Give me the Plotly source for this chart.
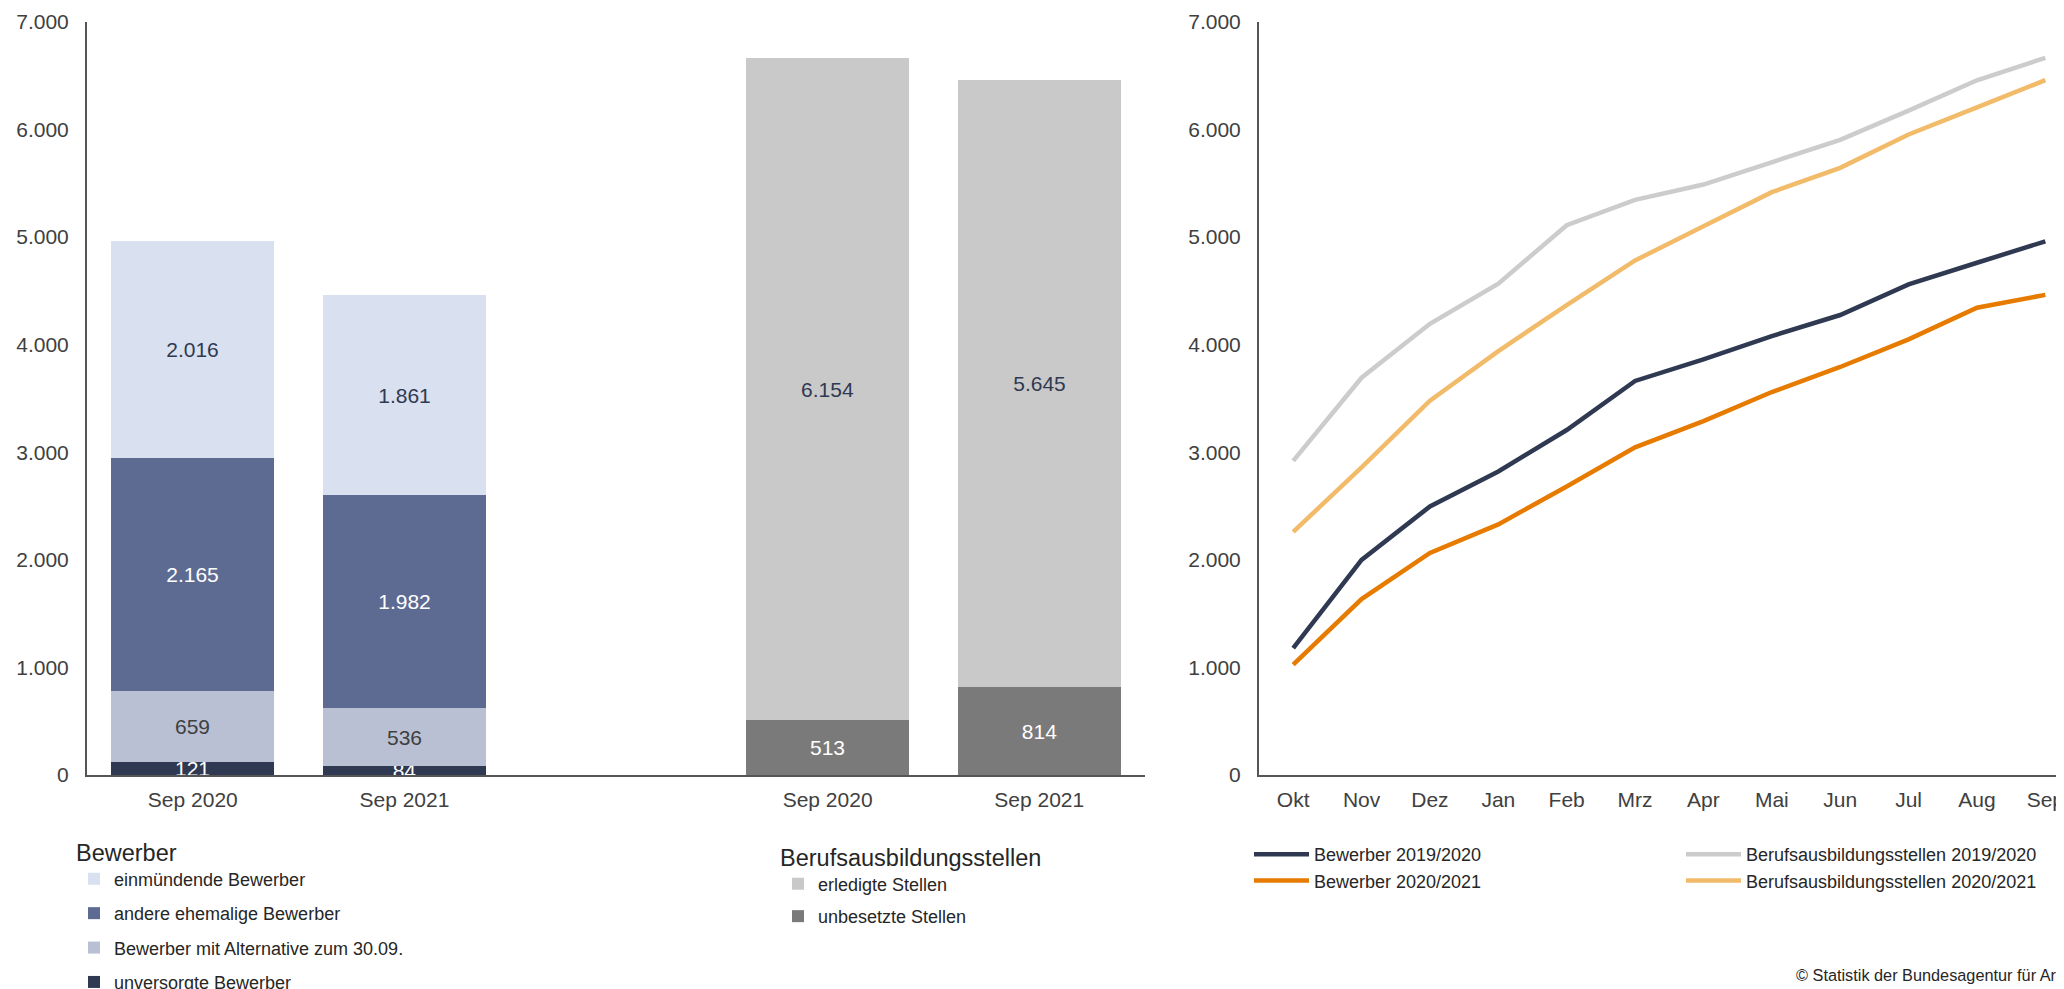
import plotly.graph_objects as go

# Bestand Ende September (linke Grafik)
stichtage = ["Sep 2020", "Sep 2021"]
bewerber_unversorgt = [121, 84]
bewerber_alternative = [659, 536]
bewerber_andere = [2165, 1982]
bewerber_einmuendend = [2016, 1861]
stellen_unbesetzt = [513, 814]
stellen_erledigt = [6154, 5645]

# kumulierte Entwicklung im Berichtsjahr (rechte Grafik)
monate = ["Okt", "Nov", "Dez", "Jan", "Feb", "Mrz", "Apr", "Mai", "Jun", "Jul", "Aug", "Sep"]
bewerber_1920 = [1180, 2000, 2497, 2821, 3207, 3663, 3864, 4080, 4276, 4560, 4762, 4961]
bewerber_2021 = [1025, 1636, 2065, 2330, 2682, 3046, 3290, 3560, 3793, 4050, 4344, 4463]
stellen_1920 = [2920, 3693, 4195, 4567, 5111, 5347, 5489, 5693, 5904, 6176, 6458, 6667]
stellen_2021 = [2260, 2860, 3480, 3941, 4368, 4783, 5102, 5418, 5644, 5954, 6207, 6459]

FONT = "Liberation Sans, Arial, sans-serif"
NAVY = "#2f3a52"
TICK = "#404040"

# slots on the bar axis: two Bewerber bars, one empty slot, two Stellen bars
pos_bewerber = [0, 1]
pos_stellen = [3, 4]

fig = go.Figure()


def add_bar(x, y, name, color, textcolor, legend, rank):
    fig.add_trace(go.Bar(
        x=x, y=y, name=name, marker_color=color, marker_line_width=0,
        width=0.77, texttemplate="%{y:,d}", textposition="inside",
        textangle=0, constraintext="none", insidetextanchor="middle",
        textfont=dict(family=FONT, size=21, color=textcolor),
        legend=legend, legendgroup=name, legendrank=rank, cliponaxis=True,
        xaxis="x", yaxis="y",
    ))


add_bar(pos_bewerber, bewerber_unversorgt, "unversorgte Bewerber", NAVY, "#ffffff", "legend", 4)
add_bar(pos_bewerber, bewerber_alternative, "Bewerber mit Alternative zum 30.09.", "#b9c0d4", "#404040", "legend", 3)
add_bar(pos_bewerber, bewerber_andere, "andere ehemalige Bewerber", "#5d6b93", "#ffffff", "legend", 2)
add_bar(pos_bewerber, bewerber_einmuendend, "einmündende Bewerber", "#d9e0ef", NAVY, "legend", 1)
add_bar(pos_stellen, stellen_unbesetzt, "unbesetzte Stellen", "#7a7a7a", "#ffffff", "legend2", 2)
add_bar(pos_stellen, stellen_erledigt, "erledigte Stellen", "#c9c9c9", NAVY, "legend2", 1)


def add_line(y, name, color, legend):
    fig.add_trace(go.Scatter(
        x=monate, y=y, name=name, mode="lines",
        line=dict(color=color, width=4.5), legend=legend,
        xaxis="x2", yaxis="y2",
    ))


add_line(stellen_1920, "Berufsausbildungsstellen 2019/2020", "#cccccc", "legend4")
add_line(stellen_2021, "Berufsausbildungsstellen 2020/2021", "#f2bb6a", "legend4")
add_line(bewerber_1920, "Bewerber 2019/2020", NAVY, "legend3")
add_line(bewerber_2021, "Bewerber 2020/2021", "#e67b00", "legend3")

W, H = 2064, 989
OFF = 8  # page body margin
top, bottom = 22 - OFF, 775 - OFF


# helpers take positions as seen on the page
def px_x(sx):
    return (sx - OFF) / W


def px_y(sy):
    return (bottom - (sy - OFF)) / (bottom - top)


def cy(sy):
    return 1 - (sy - OFF) / H


axis_common = dict(
    showline=True, linecolor="#555555", linewidth=2, showgrid=False,
    zeroline=False, ticks="", automargin=False,
    tickfont=dict(family=FONT, size=21, color=TICK),
)

legend_common = dict(
    bgcolor="rgba(0,0,0,0)", borderwidth=0, xanchor="left", yanchor="top",
    xref="container", yref="container",
    font=dict(family=FONT, size=18, color="#262626"),
    title_font=dict(family=FONT, size=23.5, color="#262626"),
)

fig.update_layout(
    width=W, height=H,
    margin=dict(l=0, r=0, t=top, b=H - bottom, autoexpand=False),
    paper_bgcolor="white", plot_bgcolor="white",
    separators=",.",
    barmode="stack", bargap=0,
    showlegend=True,
    xaxis=dict(axis_common, domain=[px_x(87), px_x(1145)], range=[-0.5, 4.5],
               tickmode="array", tickvals=pos_bewerber + pos_stellen,
               ticktext=stichtage + stichtage, ticklabelstandoff=5),
    yaxis=dict(axis_common, range=[0, 7000], tickformat=",d", dtick=1000,
               ticklabelstandoff=12),
    xaxis2=dict(axis_common, domain=[px_x(1259), 1], type="category",
                range=[-0.5, 11.39], anchor="y2", ticklabelstandoff=5),
    yaxis2=dict(axis_common, range=[0, 7000], tickformat=",d", dtick=1000,
                anchor="x2", ticklabelstandoff=12),
    legend=dict(legend_common, x=px_x(74), y=cy(830), title_text="Bewerber",
                traceorder="grouped", tracegroupgap=8),
    legend2=dict(legend_common, x=px_x(778), y=cy(835),
                 title_text="Berufsausbildungsstellen",
                 traceorder="grouped", tracegroupgap=6),
    legend3=dict(legend_common, x=px_x(1249), y=cy(836), itemwidth=55),
    legend4=dict(legend_common, x=px_x(1681), y=cy(836), itemwidth=55),
    annotations=[dict(
        text="© Statistik der Bundesagentur für Arbeit", xref="paper", yref="paper",
        x=px_x(1794), y=px_y(975), xanchor="left", yanchor="middle",
        showarrow=False, font=dict(family=FONT, size=16.3, color="#262626"),
    )],
)

fig.write_html("out.html")
